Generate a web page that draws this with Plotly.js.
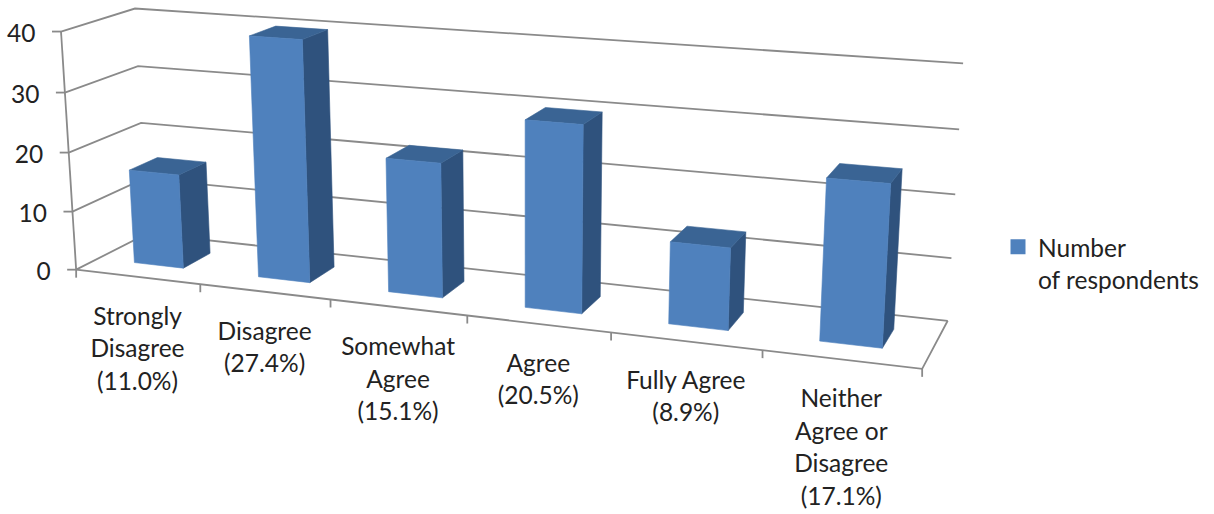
<!DOCTYPE html>
<html>
<head>
<meta charset="utf-8">
<script src="https://cdn.plot.ly/plotly-3.0.1.min.js"></script>
<style>html,body{margin:0;padding:0;background:#fff}#chart{width:1214px;height:514px}</style>
</head>
<body>
<div id="chart"></div>
<script>
// Survey responses, drawn as a perspective column chart.
const categories = [
  ['Strongly', 'Disagree', '(11.0%)'],
  ['Disagree', '(27.4%)'],
  ['Somewhat', 'Agree', '(15.1%)'],
  ['Agree', '(20.5%)'],
  ['Fully Agree', '(8.9%)'],
  ['Neither', 'Agree or', 'Disagree', '(17.1%)']
];
const respondents = [16, 40, 22, 30, 13, 25];
const valueTicks = [0, 10, 20, 30, 40];
const seriesName = ['Number', 'of respondents'];

const COLORS = {front: '#4f81bd', side: '#2f527d', top: '#3a6494', grid: '#8a8a8a', text: '#222222'};
const TEXT_SIZE = 24.5, LINE_SIZE = 25;
const BAR = [0.3, 0.7];   // gap width 150%: column spans 40% of a slot, in both directions

// Calibration of the view: [slot, depth, value] -> pixel position on the page.
const viewAnchors = [
  [0,0,0, 76.7,269.3], [0,0,10, 72.7,211], [0,0,20, 68.3,152], [0,0,30, 64.3,91.7], [0,0,40, 61.7,31.7],
  [0,1,20, 141,122.7], [0,1,30, 137.7,66.7], [0,1,40, 135,9],
  [6,1,0, 947.7,320], [6,1,10, 951.7,258], [6,1,20, 955.3,194], [6,1,30, 959,129.3], [6,1,40, 963.3,63.7],
  [6,0,0, 921.7,368.3], [1,0,0, 200,285], [2,0,0, 331,299.7], [3,0,0, 467,316], [4,0,0, 611,333], [5,0,0, 762.7,351]
];

// Least-squares fit of a projective camera (11 coefficients, normal equations).
function fitCamera(anchors) {
  const n = 11, A = Array.from({length: n}, () => new Array(n + 1).fill(0));
  const add = (row, rhs) => {
    for (let i = 0; i < n; i++) {
      for (let j = 0; j < n; j++) A[i][j] += row[i] * row[j];
      A[i][n] += row[i] * rhs;
    }
  };
  anchors.forEach(([a, b, c, px, py]) => {
    const u = a / 6, v = b, w = c / 40, x = px / 1000, y = py / 1000;
    add([u, v, w, 1, 0, 0, 0, 0, -x * u, -x * v, -x * w], x);
    add([0, 0, 0, 0, u, v, w, 1, -y * u, -y * v, -y * w], y);
  });
  for (let i = 0; i < n; i++) {
    let p = i;
    for (let r = i + 1; r < n; r++) if (Math.abs(A[r][i]) > Math.abs(A[p][i])) p = r;
    [A[i], A[p]] = [A[p], A[i]];
    for (let r = 0; r < n; r++) {
      if (r === i) continue;
      const f = A[r][i] / A[i][i];
      for (let c = i; c <= n; c++) A[r][c] -= f * A[i][c];
    }
  }
  return A.map((row, i) => row[n] / row[i]);
}
const cam = fitCamera(viewAnchors);
function project(slot, depth, value) {
  const u = slot / 6, v = depth, w = value / 40;
  const d = cam[8] * u + cam[9] * v + cam[10] * w + 1;
  return [
    1000 * (cam[0] * u + cam[1] * v + cam[2] * w + cam[3]) / d,
    1000 * (cam[4] * u + cam[5] * v + cam[6] * w + cam[7]) / d
  ];
}

// Collects null-separated paths so one trace can hold many polygons or segments.
function pathSet(paths) {
  const x = [], y = [];
  paths.forEach(p => {
    p.forEach(([px, py]) => { x.push(px); y.push(py); });
    x.push(null); y.push(null);
  });
  return {x, y};
}

const gridPaths = valueTicks.map(v => [project(0, 0, v), project(0, 1, v), project(6, 1, v)]);
const axisPaths = [
  [project(0, 0, 0), project(0, 0, 40)],
  [project(0, 0, 0), project(6, 0, 0), project(6, 1, 0)]
];
valueTicks.forEach(v => {
  const p = project(0, 0, v);
  axisPaths.push([[p[0] - 9, p[1]], p]);
});
for (let i = 0; i <= 6; i++) {
  const p = project(i, 0, 0);
  axisPaths.push([p, [p[0], p[1] + 8]]);
}

const fronts = [], sides = [], tops = [];
respondents.forEach((val, i) => {
  const l = i + BAR[0], r = i + BAR[1], n = BAR[0], f = BAR[1];
  fronts.push([project(l, n, 0), project(r, n, 0), project(r, n, val), project(l, n, val), project(l, n, 0)]);
  sides.push([project(r, n, 0), project(r, f, 0), project(r, f, val), project(r, n, val), project(r, n, 0)]);
  tops.push([project(l, n, val), project(r, n, val), project(r, f, val), project(l, f, val), project(l, n, val)]);
});

const lineTrace = (paths, color, width) => Object.assign(pathSet(paths), {
  type: 'scatter', mode: 'lines', showlegend: false, hoverinfo: 'skip',
  line: {color, width}
});
const faceTrace = (paths, color) => Object.assign(pathSet(paths), {
  type: 'scatter', mode: 'lines', fill: 'toself', fillcolor: color, showlegend: false, hoverinfo: 'skip',
  line: {color, width: 0.6}
});

const sized = lines => lines.map(t => `<span style="font-size:${TEXT_SIZE}px">${t}</span>`).join('<br>');

const catPoints = categories.map((c, i) => {
  const p = project(i + 0.5, 0, 0);
  return [p[0], p[1] + 29];
});
const valuePoints = valueTicks.map(v => {
  const p = project(0, 0, v);
  return [p[0] - 25.5, p[1] + 4];
});

const traces = [
  lineTrace(gridPaths, COLORS.grid, 1.8),
  lineTrace(axisPaths, COLORS.grid, 1.8),
  faceTrace(sides, COLORS.side),
  faceTrace(tops, COLORS.top),
  faceTrace(fronts, COLORS.front),
  {
    type: 'scatter', mode: 'text', showlegend: false, hoverinfo: 'skip',
    x: catPoints.map(p => p[0]), y: catPoints.map(p => p[1]),
    text: categories.map(sized), textposition: 'bottom center',
    textfont: {family: 'Lato, sans-serif', size: LINE_SIZE, color: COLORS.text}
  },
  {
    type: 'scatter', mode: 'text', showlegend: false, hoverinfo: 'skip',
    x: valuePoints.map(p => p[0]), y: valuePoints.map(p => p[1]),
    text: valueTicks.map(String), textposition: 'middle left',
    textfont: {family: 'Lato, sans-serif', size: TEXT_SIZE, color: COLORS.text}
  },
  {
    type: 'scatter', mode: 'markers', x: [null], y: [null], hoverinfo: 'skip',
    name: sized(seriesName),
    marker: {symbol: 'square', size: 15, color: COLORS.front}
  }
];

const layout = {
  width: 1214, height: 514,
  margin: {l: 0, r: 0, t: 0, b: 0},
  paper_bgcolor: '#ffffff', plot_bgcolor: '#ffffff',
  xaxis: {range: [0, 1214], visible: false, fixedrange: true},
  yaxis: {range: [514, 0], visible: false, fixedrange: true},
  showlegend: true,
  legend: {
    x: 1009 / 1214, xanchor: 'left', y: 1 - 224 / 514, yanchor: 'top',
    bgcolor: 'rgba(0,0,0,0)', borderwidth: 0, indentation: -11, valign: 'top',
    font: {family: 'Lato, sans-serif', size: LINE_SIZE, color: COLORS.text}
  }
};

Plotly.newPlot('chart', traces, layout, {displayModeBar: false, staticPlot: true});
</script>
</body>
</html>
